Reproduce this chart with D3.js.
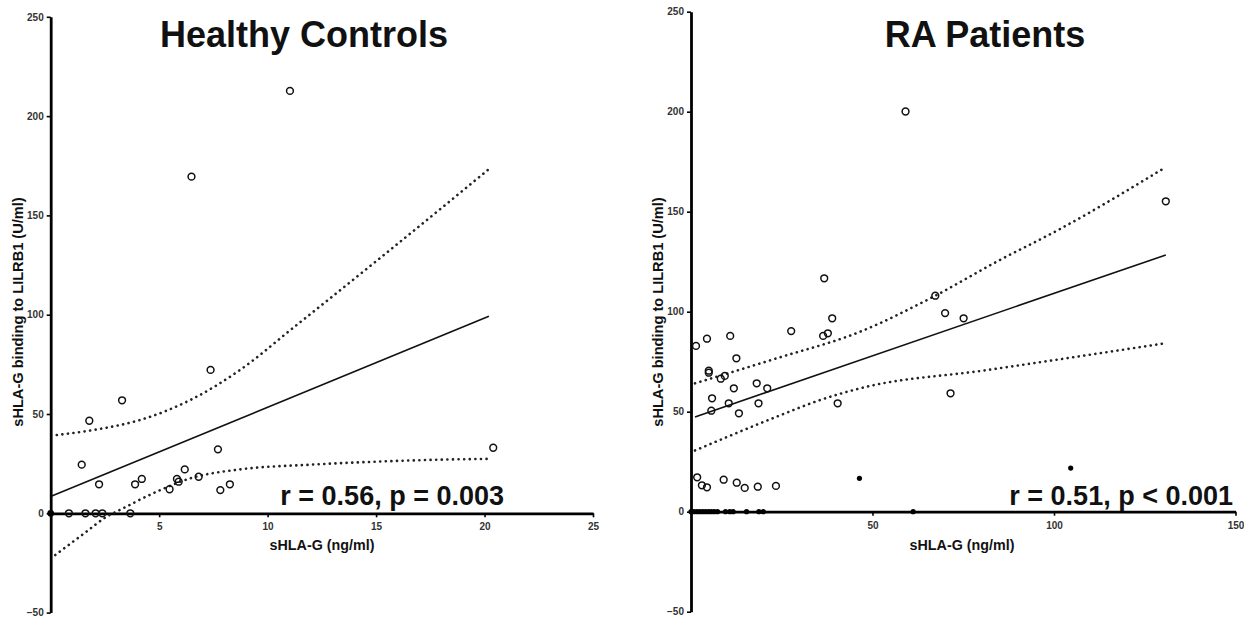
<!doctype html>
<html>
<head>
<meta charset="UTF-8">
<script src="https://d3js.org/d3.v7.min.js"></script>
<style>
  body { margin: 0; background: #fff; }
  text { font-family: "Liberation Sans", Arial, sans-serif; font-weight: bold; fill: #111; }
  .tick text { font-size: 10px; fill: #333; }
</style>
</head>
<body>
<div id="graph"></div>
<script>
// ---- Healthy Controls ----
var hcOpenX = [1.43, 1.78, 3.29, 2.23, 3.89, 4.2, 5.48, 5.82, 5.9, 6.18, 6.82, 7.71, 7.82, 8.26, 11.03, 6.49, 7.37, 20.4, 0.84, 1.6, 2.07, 2.38, 3.67];
var hcOpenY = [24.5, 46.6, 56.9, 14.6, 14.6, 17.3, 12.1, 17.3, 15.9, 22.1, 18.4, 32.2, 11.7, 14.6, 212.7, 169.5, 72.2, 33, 0, 0, 0, 0, 0];
var hcFillX = [0];
var hcFillY = [0];
var hcFitX = [0.05, 20.2];
var hcFitY = [8.7, 99.2];
var hcUpX = [0.28, 2, 4.12, 6.43, 8.73, 11.19, 14.5, 17.96, 20.2];
var hcUpY = [39.4, 42, 47, 57, 72.2, 93.5, 122.5, 153.2, 173.3];
var hcLoX = [0.21, 1.58, 2.58, 3.19, 4.89, 6.43, 8.73, 12, 15, 17.96, 20.2];
var hcLoY = [-21, -9.8, -1.7, 1.7, 10.9, 17.6, 22.1, 24.5, 26, 27, 27.4];
var hcXTicks = [5, 10, 15, 20, 25];

// ---- RA Patients ----
var raOpenX = [1.38, 4.4, 10.8, 4.9, 4.9, 8.2, 9.3, 12.5, 11.8, 5.8, 5.6, 10.4, 13.2, 18.1, 18.6, 21.0, 27.6, 36.7, 36.4, 37.7, 38.9, 40.4,
               1.7, 3.0, 4.4, 9.0, 12.6, 14.8, 18.4, 23.4, 67.3, 70.0, 75.1, 71.5, 59.1, 130.8];
var raOpenY = [82.9, 86.5, 87.9, 70.5, 69.5, 66.5, 67.9, 76.7, 61.7, 56.7, 50.5, 54.2, 49.2, 64.2, 54.2, 61.7, 90.3, 116.7, 87.9, 89.2, 96.7, 54.2,
               17.2, 13.2, 12.2, 16, 14.5, 11.9, 12.5, 12.9, 108, 99.3, 96.7, 59.2, 200.1, 155.2];
var raFillX = [46.4, 104.6, 61.2, 0, 0.8, 1.6, 2.4, 3.2, 4.0, 4.8, 5.6, 6.4, 7.3, 9.5, 10.7, 11.6, 15.3, 18.7, 19.9];
var raFillY = [16.7, 21.8, 0, 0, 0, 0, 0, 0, 0, 0, 0, 0, 0, 0, 0, 0, 0, 0, 0];
var raFitX = [1.1, 130.8];
var raFitY = [47.4, 128.4];
var raUpX = [1.1, 23.6, 46.6, 67.3, 84.2, 101.7, 130.8];
var raUpY = [64.2, 76.7, 90, 108, 125, 141.4, 172.3];
var raLoX = [1.1, 23.6, 35.5, 46.6, 81.5, 131];
var raLoY = [30.6, 47.5, 55.8, 61.7, 70.8, 84.3];
var raXTicks = [50, 100, 150];

var yTicks = [-50, 0, 50, 100, 150, 200, 250];

var w = 1244, h = 619;
var svg = d3.select("#graph").append("svg")
    .attr("width", w)
    .attr("height", h);

function zip(xs, ys) {
    return xs.map(function(d, i) { return [d, ys[i]]; });
}

function panel(p) {
    var x = d3.scaleLinear().domain([0, p.xMax]).range(p.xRange);
    var y = d3.scaleLinear().domain([-50, 250]).range(p.yRange);
    var g = svg.append("g");

    // y axis
    var ya = g.append("g")
        .attr("transform", "translate(" + x(0) + ",0)")
        .call(d3.axisLeft(y).tickValues(yTicks).tickSize(4).tickSizeOuter(0).tickPadding(3));
    // x axis through y = 0
    var xa = g.append("g")
        .attr("transform", "translate(0," + y(0) + ")")
        .call(d3.axisBottom(x).tickValues(p.xTicks).tickSize(4).tickSizeOuter(0).tickPadding(6));
    [ya, xa].forEach(function(a) {
        a.select(".domain").attr("stroke", "#000").attr("stroke-width", 2.8);
        a.selectAll(".tick line").attr("stroke", "#000").attr("stroke-width", 1.6);
    });

    var line = d3.line().x(function(d) { return x(d[0]); }).y(function(d) { return y(d[1]); });
    var curve = d3.line().curve(d3.curveMonotoneX).x(function(d) { return x(d[0]); }).y(function(d) { return y(d[1]); });

    g.append("path").datum(zip(p.fitX, p.fitY))
        .attr("d", line).attr("fill", "none").attr("stroke", "#111").attr("stroke-width", 1.6);
    [zip(p.upX, p.upY), zip(p.loX, p.loY)].forEach(function(c) {
        g.append("path").datum(c)
            .attr("d", curve).attr("fill", "none").attr("stroke", "#222")
            .attr("stroke-width", 2.6).attr("stroke-linecap", "round")
            .attr("stroke-dasharray", "0.1 5.5");
    });

    g.selectAll(".open").data(zip(p.openX, p.openY)).enter()
        .append("circle")
        .attr("cx", function(d) { return x(d[0]); })
        .attr("cy", function(d) { return y(d[1]); })
        .attr("r", 3.4)
        .attr("fill", "none")
        .attr("stroke", "#111")
        .attr("stroke-width", 1.5);

    g.selectAll(".fill").data(zip(p.fillX, p.fillY)).enter()
        .append("circle")
        .attr("cx", function(d) { return x(d[0]); })
        .attr("cy", function(d) { return y(d[1]); })
        .attr("r", p.fillR)
        .attr("fill", "#000");

    // titles and labels
    g.append("text").attr("x", p.titleX).attr("y", 46.5)
        .attr("text-anchor", "middle").style("font-size", "36px").text(p.title);
    g.append("text").attr("x", p.noteX).attr("y", 505)
        .attr("text-anchor", "end").style("font-size", "27px").text(p.note);
    g.append("text").attr("x", p.xLabX).attr("y", 550)
        .attr("text-anchor", "middle").style("font-size", "14.3px").text("sHLA-G (ng/ml)");
    g.append("text")
        .attr("transform", "translate(" + (x(0) - 28) + ",312) rotate(-90)")
        .attr("text-anchor", "middle").style("font-size", "14.6px")
        .text("sHLA-G binding to LILRB1 (U/ml)");
}

panel({
    xMax: 25, xRange: [50.7, 593], yRange: [612.6, 16.8], xTicks: hcXTicks,
    openX: hcOpenX, openY: hcOpenY, fillX: hcFillX, fillY: hcFillY, fillR: 3.4,
    fitX: hcFitX, fitY: hcFitY, upX: hcUpX, upY: hcUpY, loX: hcLoX, loY: hcLoY,
    title: "Healthy Controls", titleX: 304, note: "r = 0.56, p = 0.003", noteX: 504, xLabX: 322
});

panel({
    xMax: 150, xRange: [691, 1235.5], yRange: [611.7, 11.7], xTicks: raXTicks,
    openX: raOpenX, openY: raOpenY, fillX: raFillX, fillY: raFillY, fillR: 2.6,
    fitX: raFitX, fitY: raFitY, upX: raUpX, upY: raUpY, loX: raLoX, loY: raLoY,
    title: "RA Patients", titleX: 985, note: "r = 0.51, p < 0.001", noteX: 1233, xLabX: 962
});
</script>
</body>
</html>
